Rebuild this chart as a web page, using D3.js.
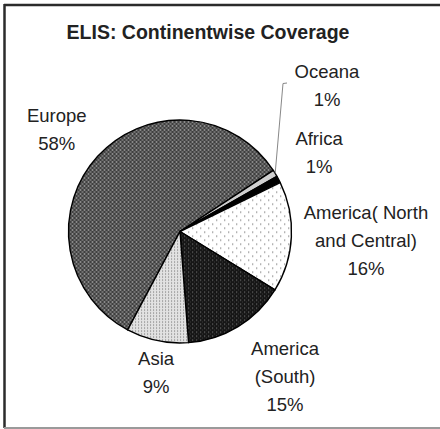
<!DOCTYPE html>
<html>
<head>
<meta charset="utf-8">
<script src="https://cdn.jsdelivr.net/npm/d3@7"></script>
<style>
  body { margin: 0; background: #fff; }
  text { font-family: "Liberation Sans", Arial, sans-serif; fill: #222; }
</style>
</head>
<body>
<svg id="chart" width="440" height="429"></svg>
<script>
// data
const continents = ["Europe", "Oceana", "Africa", "America( North and Central)", "America (South)", "Asia"];
const shares = [58, 1, 1, 16, 15, 9];
const labelLines = [["Europe"], ["Oceana"], ["Africa"], ["America( North", "and Central)"], ["America", "(South)"], ["Asia"]];
const pctLabels = ["58%", "1%", "1%", "16%", "15%", "9%"];

function Draw_pie(){
    const width = 440, height = 429;
    const cx = 180, cy = 231.5, radius = 111.5;

    const svg = d3.select("#chart");
    const defs = svg.append("defs");

    // fill patterns, roughly like the old excel hatches
    function dotPattern(id, size, bg, dots) {
        const p = defs.append("pattern")
            .attr("id", id)
            .attr("width", size).attr("height", size)
            .attr("patternUnits", "userSpaceOnUse");
        p.append("rect").attr("width", size).attr("height", size).attr("fill", bg);
        dots.forEach(d => {
            p.append("rect").attr("x", d[0]).attr("y", d[1])
                .attr("width", d[3] || 1).attr("height", d[3] || 1).attr("fill", d[2]);
        });
    }
    dotPattern("pEurope", 4, "#585858", [[0, 0, "#262626"], [2, 2, "#262626"], [2, 0, "#8a8a8a"], [0, 2, "#bbbbbb"]]);
    dotPattern("pAmN", 8, "#ffffff", [[0, 0, "#8a8a8a", 1.3], [4, 4, "#8a8a8a", 1.3]]);
    dotPattern("pAmS", 4, "#161616", [[0, 0, "#6a6a6a", 1.2], [2, 2, "#3a3a3a"]]);
    dotPattern("pAsia", 3, "#e2e2e2", [[0, 0, "#7a7a7a", 1.1]]);

    const fills = ["url(#pEurope)", "#cfcfcf", "#000000", "url(#pAmN)", "url(#pAmS)", "url(#pAsia)"];

    // frame
    svg.append("line").attr("x1", 4).attr("y1", 5).attr("x2", 440).attr("y2", 5)
        .attr("stroke", "#2b2b2b").attr("stroke-width", 2.5);
    svg.append("line").attr("x1", 4.5).attr("y1", 4).attr("x2", 4.5).attr("y2", 428)
        .attr("stroke", "#2b2b2b").attr("stroke-width", 2.5);
    svg.append("line").attr("x1", 4).attr("y1", 428).attr("x2", 440).attr("y2", 428)
        .attr("stroke", "#9a9a9a").attr("stroke-width", 2);

    svg.append("text")
        .attr("x", 208).attr("y", 39)
        .attr("text-anchor", "middle")
        .attr("font-size", 19.5)
        .attr("font-weight", "bold")
        .text("ELIS: Continentwise Coverage");

    const startDeg = -152;
    const pie = d3.pie()
        .sort(null)
        .value(d => d)
        .startAngle(startDeg * Math.PI / 180)
        .endAngle((startDeg + 360) * Math.PI / 180);
    const arcs = pie(shares);

    const arc = d3.arc().innerRadius(0).outerRadius(radius);

    const g = svg.append("g").attr("transform", `translate(${cx},${cy})`);

    g.selectAll("path.slice")
        .data(arcs)
        .enter().append("path")
        .attr("class", "slice")
        .attr("d", arc)
        .attr("fill", (d, i) => fills[i])
        .attr("stroke", "#000")
        .attr("stroke-width", 1.4)
        .attr("stroke-linejoin", "round");

    // label placement: radius factor and angle shift (deg) from slice middle
    const labelPlace = [[1.43, -3], [1.855, -13.3], [1.43, -1.5], [1.67, 0], [1.61, -4.4], [1.287, -2.2]];
    const lineH = 28;

    arcs.forEach((d, i) => {
        const a = (d.startAngle + d.endAngle) / 2 + labelPlace[i][1] * Math.PI / 180;
        const r = radius * labelPlace[i][0];
        const lx = Math.sin(a) * r, ly = -Math.cos(a) * r;
        const lines = labelLines[i].concat([pctLabels[i]]);
        const t = g.append("text")
            .attr("text-anchor", "middle")
            .attr("font-size", 18.5);
        lines.forEach((s, k) => {
            t.append("tspan")
                .attr("x", lx)
                .attr("y", ly + (k - (lines.length - 1) / 2) * lineH + 6)
                .text(s);
        });
    });

    // leader from the Oceana label down to its sliver
    const oc = arcs[1];
    const ocMid = (oc.startAngle + oc.endAngle) / 2;
    const edge = [Math.sin(ocMid) * radius, -Math.cos(ocMid) * radius];
    g.append("path")
        .attr("d", d3.line()([[107, -148.5], [103, -148], edge]))
        .attr("fill", "none")
        .attr("stroke", "#888")
        .attr("stroke-width", 1);
}

Draw_pie();
</script>
</body>
</html>
